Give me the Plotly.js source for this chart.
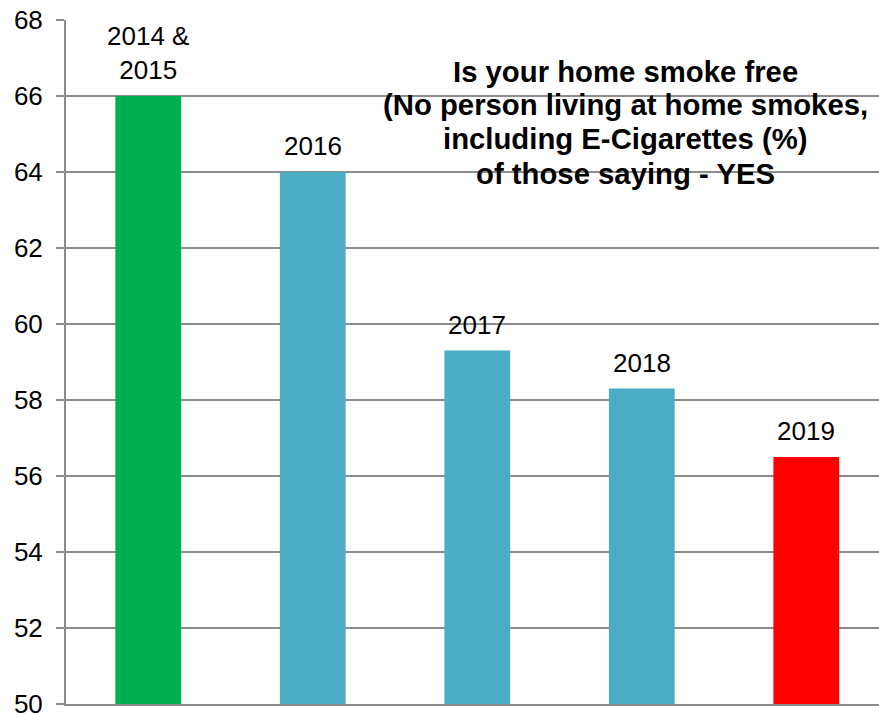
<!DOCTYPE html>
<html>
<head>
<meta charset="utf-8">
<script src="https://cdn.plot.ly/plotly-3.0.1.min.js"></script>
<style>html,body{margin:0;padding:0;background:#fff;overflow:hidden;}</style>
</head>
<body>
<div id="chart" style="width:879px;height:714px;"></div>
<script>
var categories = ["2014 &<br>2015", "2016", "2017", "2018", "2019"];
var values = [66.0, 64.0, 59.3, 58.3, 56.5];
var barColors = ["#00B050", "#4BACC6", "#4BACC6", "#4BACC6", "#FF0000"];
var titleLines = [
  "Is your home smoke free",
  "(No person living at home smokes,",
  "including E-Cigarettes (%)",
  "of those saying - YES"
];
var yTicks = [50, 52, 54, 56, 58, 60, 62, 64, 66, 68];

var font = "Liberation Sans, Arial, sans-serif";
var gray = "#8c8c8c";

var trace = {
  type: "bar",
  x: categories,
  y: values,
  marker: {color: barColors, line: {width: 0}},
  hoverinfo: "none"
};

var annotations = [];
categories.forEach(function (c, i) {
  annotations.push({
    x: i, y: values[i], xref: "x", yref: "y",
    text: c, showarrow: false,
    xanchor: "center", yanchor: "bottom", yshift: 9,
    font: {family: font, size: 26, color: "#000"}
  });
});
var titleCenters = [71, 105, 139, 173];
titleLines.forEach(function (t, i) {
  annotations.push({
    x: 0.688, y: (704 - titleCenters[i]) / 684, xref: "paper", yref: "paper",
    text: "<b>" + t + "</b>", showarrow: false,
    xanchor: "center", yanchor: "middle",
    font: {family: font, size: 29.3, color: "#000"}
  });
});

var layout = {
  width: 879, height: 714,
  margin: {l: 66, r: 0, t: 20, b: 10, pad: 0},
  paper_bgcolor: "#fff", plot_bgcolor: "#fff",
  showlegend: false,
  bargap: 0.6,
  xaxis: {
    type: "category",
    range: [-0.5, 4.442],
    showticklabels: false,
    ticks: "",
    showgrid: false,
    zeroline: false,
    showline: true, linecolor: gray, linewidth: 1.5
  },
  yaxis: {
    range: [50, 68],
    tickvals: yTicks,
    ticktext: yTicks.map(String),
    ticks: "outside", ticklen: 8, tickcolor: gray, tickwidth: 1.5,
    ticklabelstandoff: 8,
    ticklabeloverflow: "allow",
    showline: true, linecolor: gray, linewidth: 2,
    showgrid: true, gridcolor: gray, gridwidth: 1.5,
    zeroline: false,
    tickfont: {family: font, size: 26, color: "#000"}
  },
  annotations: annotations
};

Plotly.newPlot("chart", [trace], layout, {displayModeBar: false, staticPlot: true});
</script>
</body>
</html>
